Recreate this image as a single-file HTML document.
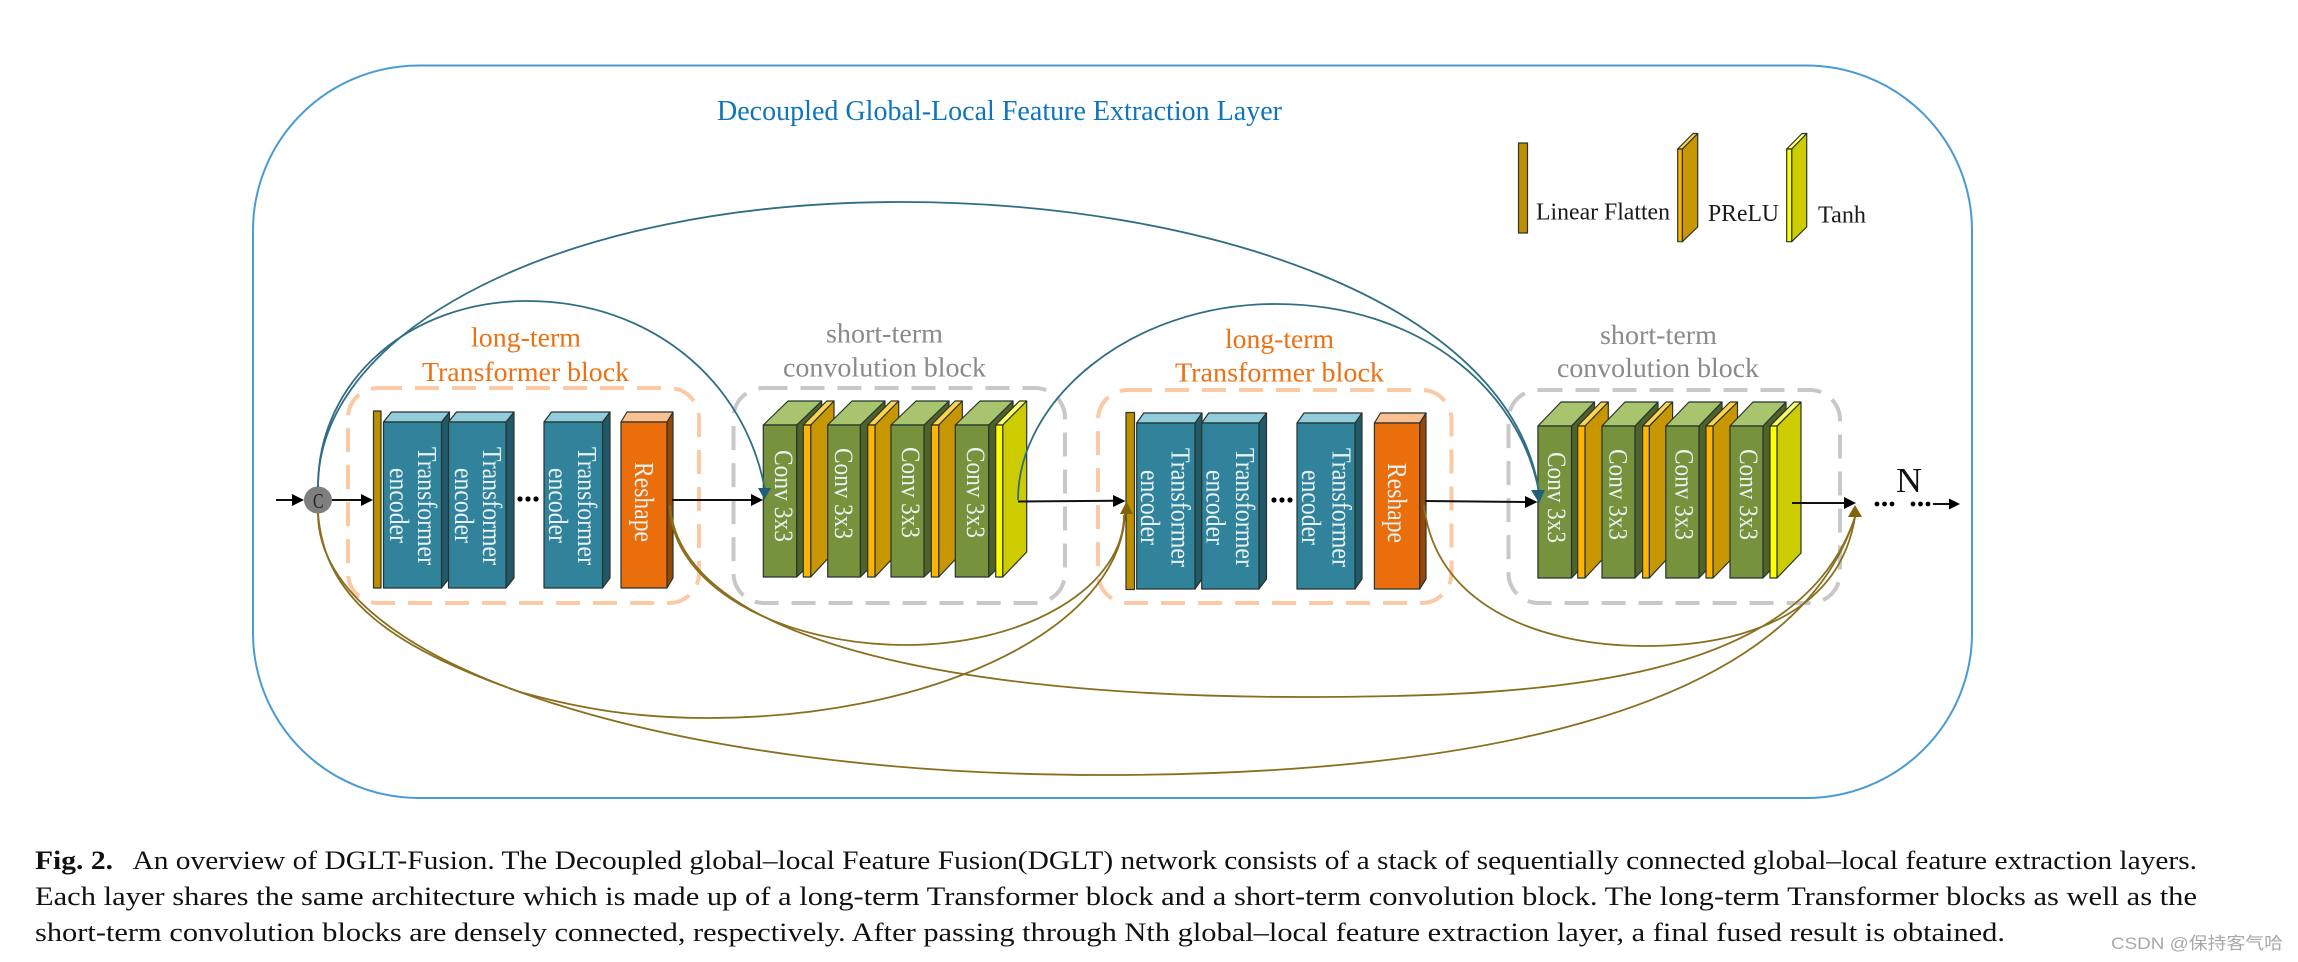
<!DOCTYPE html>
<html><head><meta charset="utf-8"><style>
html,body{margin:0;padding:0;background:#fff}
svg{display:block}
text{font-family:"Liberation Serif","Noto Serif CJK SC",serif}
.k polygon,.k rect{stroke:#26332f;stroke-width:1.2;stroke-linejoin:round}
.w{fill:#e9f2f2}
</style></head><body>
<svg xmlns="http://www.w3.org/2000/svg" width="2298" height="962" viewBox="0 0 2298 962">
<rect width="2298" height="962" fill="#fff"/>
<rect x="253" y="65.5" width="1719" height="732.5" rx="166" ry="165" fill="none" stroke="#4a9ad4" stroke-width="2"/>
<text x="717" y="120" font-size="28" fill="#0e75bb" textLength="565" lengthAdjust="spacingAndGlyphs">Decoupled Global-Local Feature Extraction Layer</text>

<!-- legend -->
<g class="k">
<rect x="1518.5" y="143" width="9" height="90" fill="#bf8f00"/>
<polygon points="1682.3,149 1697.7,133.5 1697.7,227 1682.3,241.7" fill="#c89600"/>
<polygon points="1677.7,149 1693,133.5 1697.7,133.5 1682.3,149" fill="#ffd34d"/>
<rect x="1677.7" y="149" width="4.6" height="92.7" fill="#ffb400"/>
<polygon points="1791.7,149 1806.7,133.5 1806.7,227 1791.7,241.7" fill="#cccc00"/>
<polygon points="1786.7,149 1802,133.5 1806.7,133.5 1791.7,149" fill="#ffff66"/>
<rect x="1786.7" y="149" width="5" height="92.7" fill="#ffff00"/>
</g>
<text x="1536" y="219.5" font-size="24" fill="#1a1a1a" textLength="134" lengthAdjust="spacingAndGlyphs">Linear Flatten</text>
<text x="1708" y="221" font-size="24" fill="#1a1a1a" textLength="71" lengthAdjust="spacingAndGlyphs">PReLU</text>
<text x="1818" y="222.7" font-size="24" fill="#1a1a1a" textLength="48" lengthAdjust="spacingAndGlyphs">Tanh</text>

<!-- dashed boxes -->
<g fill="none" stroke-width="4" stroke-dasharray="24 13">
<rect x="348" y="388" width="351" height="215" rx="30" stroke="#fbc9a4"/>
<rect x="733.5" y="388" width="331.5" height="215" rx="30" stroke="#c8c8c8"/>
<rect x="1098" y="390" width="353.5" height="213" rx="30" stroke="#fbc9a4"/>
<rect x="1508.5" y="390" width="331.5" height="213" rx="30" stroke="#c8c8c8"/>
</g>

<!-- headings -->
<text x="471" y="346.7" font-size="27" fill="#ec7014" textLength="110" lengthAdjust="spacingAndGlyphs">long-term</text>
<text x="422" y="381" font-size="27" fill="#ec7014" textLength="207" lengthAdjust="spacingAndGlyphs">Transformer block</text>
<text x="826" y="342.7" font-size="27" fill="#8a8a8a" textLength="117" lengthAdjust="spacingAndGlyphs">short-term</text>
<text x="783" y="376.7" font-size="27" fill="#8a8a8a" textLength="203" lengthAdjust="spacingAndGlyphs">convolution block</text>
<text x="1225" y="348" font-size="27" fill="#ec7014" textLength="109" lengthAdjust="spacingAndGlyphs">long-term</text>
<text x="1175" y="381.7" font-size="27" fill="#ec7014" textLength="209" lengthAdjust="spacingAndGlyphs">Transformer block</text>
<text x="1600" y="344" font-size="27" fill="#8a8a8a" textLength="117" lengthAdjust="spacingAndGlyphs">short-term</text>
<text x="1557" y="377" font-size="27" fill="#8a8a8a" textLength="202" lengthAdjust="spacingAndGlyphs">convolution block</text>

<!-- layer 1 transformer -->
<g class="k">
<rect x="373.5" y="411" width="7.5" height="177" fill="#bf8f00"/>
<polygon points="441.5,422 449.5,412 449.5,578 441.5,588" fill="#215968"/>
<polygon points="383.5,422 391.5,412 449.5,412 441.5,422" fill="#92cddc"/>
<rect x="383.5" y="422" width="58" height="166" fill="#30839b"/>
<polygon points="506,422 514,412 514,578 506,588" fill="#215968"/>
<polygon points="448.5,422 456.5,412 514,412 506,422" fill="#92cddc"/>
<rect x="448.5" y="422" width="57.5" height="166" fill="#30839b"/>
<polygon points="602.5,422 610,412 610,578 602.5,588" fill="#215968"/>
<polygon points="544,422 551.5,412 610,412 602.5,422" fill="#92cddc"/>
<rect x="544" y="422" width="58.5" height="166" fill="#30839b"/>
<polygon points="667,422 673,412 673,578 667,588" fill="#974806"/>
<polygon points="621,422 627,412 673,412 667,422" fill="#fac090"/>
<rect x="621" y="422" width="46" height="166" fill="#ea6f0c"/>
</g>
<!-- layer 2 transformer -->
<g class="k">
<rect x="1126" y="412.5" width="8.5" height="177" fill="#bf8f00"/>
<polygon points="1195,423 1202,413 1202,579 1195,589" fill="#215968"/>
<polygon points="1136.7,423 1143.7,413 1202,413 1195,423" fill="#92cddc"/>
<rect x="1136.7" y="423" width="58.3" height="166" fill="#30839b"/>
<polygon points="1259,423 1266.5,413 1266.5,579 1259,589" fill="#215968"/>
<polygon points="1201.7,423 1208.7,413 1266.5,413 1259,423" fill="#92cddc"/>
<rect x="1201.7" y="423" width="57.3" height="166" fill="#30839b"/>
<polygon points="1355,423 1362,413 1362,579 1355,589" fill="#215968"/>
<polygon points="1297,423 1304,413 1362,413 1355,423" fill="#92cddc"/>
<rect x="1297" y="423" width="58" height="166" fill="#30839b"/>
<polygon points="1419.7,423 1426,413 1426,579 1419.7,589" fill="#974806"/>
<polygon points="1374.4,423 1380.5,413 1426,413 1419.7,423" fill="#fac090"/>
<rect x="1374.4" y="423" width="45.3" height="166" fill="#ea6f0c"/>
</g>

<!-- layer 1 conv -->
<g class="k">
<polygon points="796.7,425 821.7,401 821.7,553 796.7,577" fill="#4f6228"/>
<polygon points="763.3,425 788,401 821.7,401 796.7,425" fill="#a9c46e"/>
<rect x="763.3" y="425" width="33.4" height="152" fill="#76923c"/>
<polygon points="810.7,425 834,401 834,552 810.7,577" fill="#c89600"/>
<polygon points="803.3,425 826.7,401 834,401 810.7,425" fill="#ffd34d"/>
<rect x="803.3" y="425" width="7.4" height="152" fill="#ffb400"/>
<polygon points="860.3,425 885,401 885,553 860.3,577" fill="#4f6228"/>
<polygon points="827.7,425 852,401 885,401 860.3,425" fill="#a9c46e"/>
<rect x="827.7" y="425" width="32.6" height="152" fill="#76923c"/>
<polygon points="875,425 898.7,401 898.7,552 875,577" fill="#c89600"/>
<polygon points="867.7,425 891,401 898.7,401 875,425" fill="#ffd34d"/>
<rect x="867.7" y="425" width="7.3" height="152" fill="#ffb400"/>
<polygon points="924,425 949,401 949,553 924,577" fill="#4f6228"/>
<polygon points="891,425 916,401 949,401 924,425" fill="#a9c46e"/>
<rect x="891" y="425" width="33" height="152" fill="#76923c"/>
<polygon points="938.7,425 962.3,401 962.3,552 938.7,577" fill="#c89600"/>
<polygon points="931.3,425 955,401 962.3,401 938.7,425" fill="#ffd34d"/>
<rect x="931.3" y="425" width="7.4" height="152" fill="#ffb400"/>
<polygon points="988.7,425 1013,401 1013,553 988.7,577" fill="#4f6228"/>
<polygon points="955.3,425 980,401 1013,401 988.7,425" fill="#a9c46e"/>
<rect x="955.3" y="425" width="33.4" height="152" fill="#76923c"/>
<polygon points="1002.7,425 1026.7,401 1026.7,552 1002.7,577" fill="#cccc00"/>
<polygon points="995.7,425 1019.5,401 1026.7,401 1002.7,425" fill="#ffff66"/>
<rect x="995.7" y="425" width="7" height="152" fill="#ffff00"/>
</g>
<!-- layer 2 conv -->
<g class="k">
<polygon points="1571.5,426 1594.5,402 1594.5,554 1571.5,578" fill="#4f6228"/>
<polygon points="1537.9,426 1561,402 1594.5,402 1571.5,426" fill="#a9c46e"/>
<rect x="1537.9" y="426" width="33.6" height="152" fill="#76923c"/>
<polygon points="1585,426 1608.3,402 1608.3,553 1585,578" fill="#c89600"/>
<polygon points="1577.7,426 1601,402 1608.3,402 1585,426" fill="#ffd34d"/>
<rect x="1577.7" y="426" width="7.3" height="152" fill="#ffb400"/>
<polygon points="1635,426 1658,402 1658,554 1635,578" fill="#4f6228"/>
<polygon points="1602,426 1625,402 1658,402 1635,426" fill="#a9c46e"/>
<rect x="1602" y="426" width="33" height="152" fill="#76923c"/>
<polygon points="1649.3,426 1672.6,402 1672.6,553 1649.3,578" fill="#c89600"/>
<polygon points="1642.6,426 1666,402 1672.6,402 1649.3,426" fill="#ffd34d"/>
<rect x="1642.6" y="426" width="6.7" height="152" fill="#ffb400"/>
<polygon points="1699,426 1722,402 1722,554 1699,578" fill="#4f6228"/>
<polygon points="1665.8,426 1689,402 1722,402 1699,426" fill="#a9c46e"/>
<rect x="1665.8" y="426" width="33.2" height="152" fill="#76923c"/>
<polygon points="1713,426 1737.5,402 1737.5,553 1713,578" fill="#c89600"/>
<polygon points="1706,426 1730,402 1737.5,402 1713,426" fill="#ffd34d"/>
<rect x="1706" y="426" width="7" height="152" fill="#ffb400"/>
<polygon points="1763,426 1786,402 1786,554 1763,578" fill="#4f6228"/>
<polygon points="1730,426 1753,402 1786,402 1763,426" fill="#a9c46e"/>
<rect x="1730" y="426" width="33" height="152" fill="#76923c"/>
<polygon points="1777,426 1801,402 1801,553 1777,578" fill="#cccc00"/>
<polygon points="1770,426 1794,402 1801,402 1777,426" fill="#ffff66"/>
<rect x="1770" y="426" width="7" height="152" fill="#ffff00"/>
</g>

<!-- rotated block labels -->
<g class="w" font-size="27">
<text transform="translate(418,447) rotate(90)" textLength="118" lengthAdjust="spacingAndGlyphs">Transformer</text>
<text transform="translate(390,468) rotate(90)" textLength="75" lengthAdjust="spacingAndGlyphs">encoder</text>
<text transform="translate(483,447) rotate(90)" textLength="118" lengthAdjust="spacingAndGlyphs">Transformer</text>
<text transform="translate(455,468) rotate(90)" textLength="75" lengthAdjust="spacingAndGlyphs">encoder</text>
<text transform="translate(578,447) rotate(90)" textLength="118" lengthAdjust="spacingAndGlyphs">Transformer</text>
<text transform="translate(549,468) rotate(90)" textLength="75" lengthAdjust="spacingAndGlyphs">encoder</text>
<text transform="translate(635,462) rotate(90)" textLength="80" lengthAdjust="spacingAndGlyphs">Reshape</text>
<text transform="translate(1171.7,448) rotate(90)" textLength="119" lengthAdjust="spacingAndGlyphs">Transformer</text>
<text transform="translate(1141,470) rotate(90)" textLength="75" lengthAdjust="spacingAndGlyphs">encoder</text>
<text transform="translate(1236,448) rotate(90)" textLength="119" lengthAdjust="spacingAndGlyphs">Transformer</text>
<text transform="translate(1206.6,470) rotate(90)" textLength="75" lengthAdjust="spacingAndGlyphs">encoder</text>
<text transform="translate(1332.7,448) rotate(90)" textLength="119" lengthAdjust="spacingAndGlyphs">Transformer</text>
<text transform="translate(1302,470) rotate(90)" textLength="75" lengthAdjust="spacingAndGlyphs">encoder</text>
<text transform="translate(1388,463) rotate(90)" textLength="80" lengthAdjust="spacingAndGlyphs">Reshape</text>
</g>
<g class="w" font-size="26">
<text transform="translate(775,450) rotate(90)" textLength="92" lengthAdjust="spacingAndGlyphs">Conv 3x3</text>
<text transform="translate(835,448) rotate(90)" textLength="91" lengthAdjust="spacingAndGlyphs">Conv 3x3</text>
<text transform="translate(902,447) rotate(90)" textLength="91" lengthAdjust="spacingAndGlyphs">Conv 3x3</text>
<text transform="translate(967,447) rotate(90)" textLength="91" lengthAdjust="spacingAndGlyphs">Conv 3x3</text>
<text transform="translate(1548,452) rotate(90)" textLength="91" lengthAdjust="spacingAndGlyphs">Conv 3x3</text>
<text transform="translate(1609.5,449) rotate(90)" textLength="91" lengthAdjust="spacingAndGlyphs">Conv 3x3</text>
<text transform="translate(1675.6,449) rotate(90)" textLength="91" lengthAdjust="spacingAndGlyphs">Conv 3x3</text>
<text transform="translate(1740,449) rotate(90)" textLength="91" lengthAdjust="spacingAndGlyphs">Conv 3x3</text>
</g>

<!-- dots -->
<g fill="#000">
<circle cx="520" cy="499" r="2.6"/><circle cx="528" cy="499" r="2.6"/><circle cx="536" cy="499" r="2.6"/>
<circle cx="1274" cy="500" r="2.6"/><circle cx="1282" cy="500" r="2.6"/><circle cx="1290" cy="500" r="2.6"/>
<circle cx="1877" cy="504" r="2.4"/><circle cx="1884.5" cy="504" r="2.4"/><circle cx="1892" cy="504" r="2.4"/>
<circle cx="1913" cy="504" r="2.4"/><circle cx="1920.5" cy="504" r="2.4"/><circle cx="1928" cy="504" r="2.4"/>
</g>

<!-- straight arrows -->
<g stroke="#111" stroke-width="2" fill="none">
<path d="M276 500H296"/><path d="M332 500H364"/><path d="M672 500H752"/>
<path d="M1018 501.5L1115 500.7"/><path d="M1425 501L1527 502"/><path d="M1792 503H1846"/><path d="M1933 504H1952"/>
</g>
<g fill="#000">
<polygon points="304,500 292,494 292,506"/>
<polygon points="373,500 361,494 361,506"/>
<polygon points="763,500 751,494 751,506"/>
<polygon points="1125.5,501 1113,495 1113,507"/>
<polygon points="1537.5,502 1525,496 1525,508"/>
<polygon points="1856,503 1844,497 1844,509"/>
<polygon points="1960,504 1949,498.5 1949,509.5"/>
</g>

<!-- C -->
<ellipse cx="318" cy="500" rx="14" ry="13.5" fill="#7f7f7f"/>
<text x="313" y="508" font-size="21" fill="#222" textLength="10.5" lengthAdjust="spacingAndGlyphs">C</text>

<!-- blue curves -->
<g fill="none" stroke="#2f6e84" stroke-width="1.8">
<path d="M318 487C318 380 410 301 527 301C650 301 745 380 765 490"/>
<path d="M318 487C318 330 560 202 901 202C1200 202 1510 300 1539 492"/>
<path d="M1018 500C1018 400 1130 304 1276 304C1420 304 1520 390 1539 492"/>
</g>
<polygon points="764.5,499.5 758,488 771,488" fill="#1f6079"/>
<polygon points="1539,503 1531,490 1545,490" fill="#1f6079"/>

<!-- olive curves -->
<g fill="none" stroke="#8a6f1e" stroke-width="1.8">
<path d="M318 513C324 595 385 645 520 692C585 710 640 718 708 718A417 208 0 0 0 1125 510"/>
<path d="M318 513C318 670 680 775 1101 775C1450 775 1790 720 1855 517"/>
<path d="M670 505A236 140 0 0 0 906 645A218 130 0 0 0 1124 515"/>
<path d="M670 505C680 640 950 697 1303 697C1560 697 1800 680 1855 517"/>
<path d="M1424 505C1434 600 1530 646 1647 646C1750 646 1840 610 1855 517"/>
</g>
<polygon points="1126.5,501.5 1120,514 1133,514" fill="#806408"/>
<polygon points="1855,505 1848,517 1862,517" fill="#806408"/>

<text x="1896" y="492" font-size="35" fill="#111" textLength="26" lengthAdjust="spacingAndGlyphs">N</text>

<!-- caption -->
<g font-size="26" fill="#111">
<text x="35" y="869" font-weight="bold" textLength="78" lengthAdjust="spacingAndGlyphs">Fig. 2.</text>
<text x="132.5" y="869" textLength="2064.5" lengthAdjust="spacingAndGlyphs">An overview of DGLT-Fusion. The Decoupled global–local Feature Fusion(DGLT) network consists of a stack of sequentially connected global–local feature extraction layers.</text>
<text x="35" y="905" textLength="2162" lengthAdjust="spacingAndGlyphs">Each layer shares the same architecture which is made up of a long-term Transformer block and a short-term convolution block. The long-term Transformer blocks as well as the</text>
<text x="35" y="941" textLength="1970" lengthAdjust="spacingAndGlyphs">short-term convolution blocks are densely connected, respectively. After passing through Nth global–local feature extraction layer, a final fused result is obtained.</text>
</g>
<text x="2111" y="949" font-size="17" fill="#a8a8a8" style="font-family:'Liberation Sans','Noto Sans CJK SC',sans-serif" textLength="172" lengthAdjust="spacingAndGlyphs">CSDN @保持客气哈</text>
</svg>
</body></html>
